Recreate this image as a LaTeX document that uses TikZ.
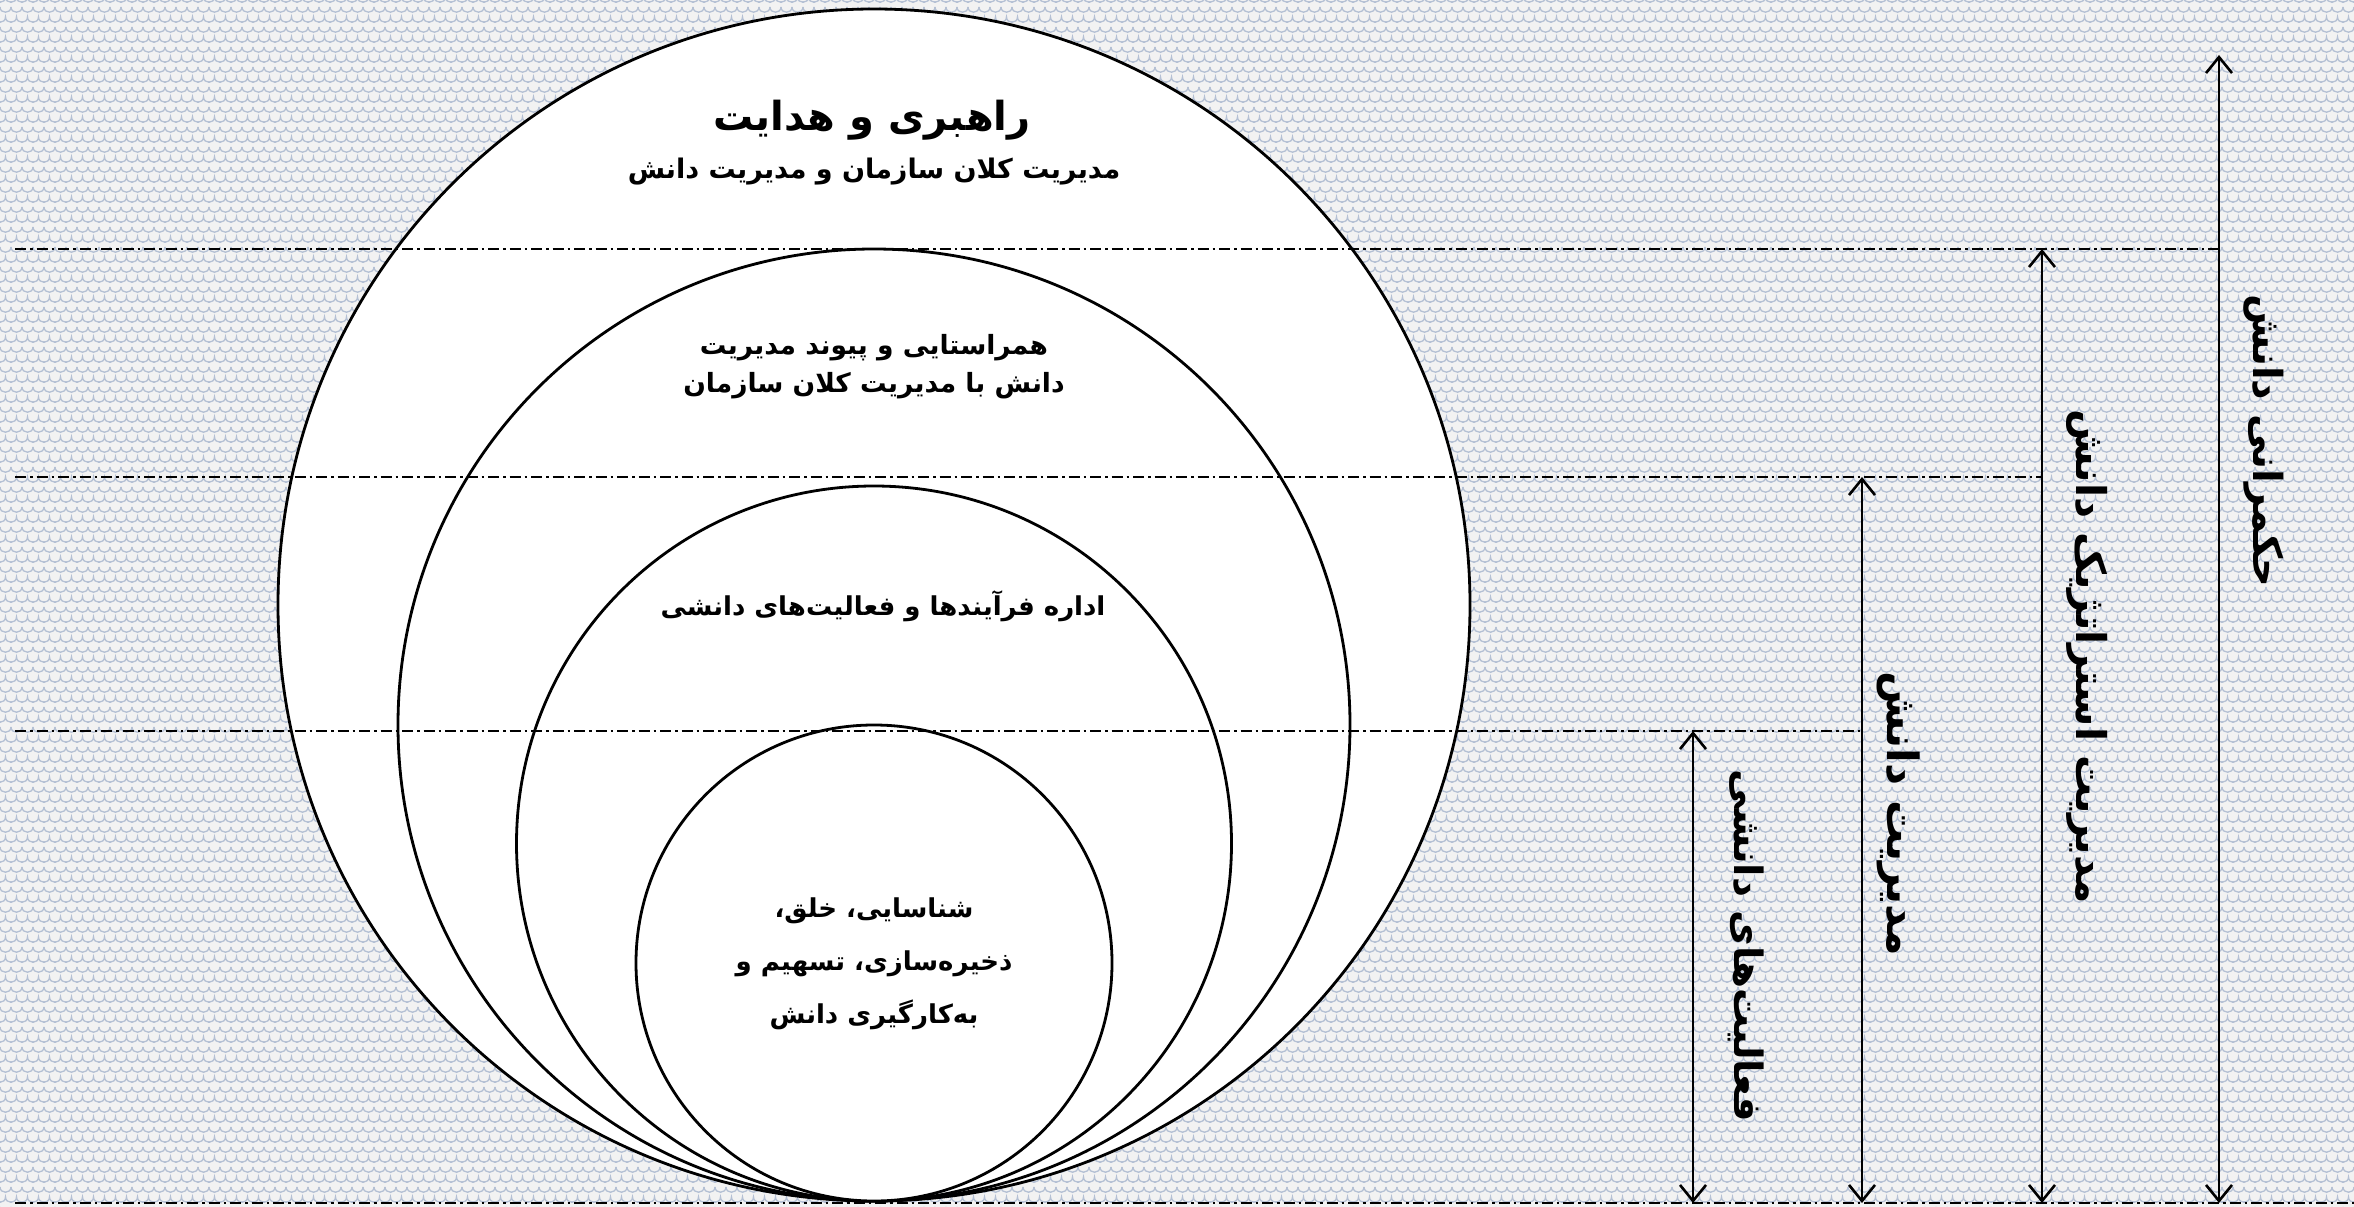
\documentclass[tikz,border=0pt]{standalone}
\usepackage{fontspec}
\newfontfamily\arabicfont[Script=Arabic]{DejaVu Sans}
\TeXXeTstate=1
\usetikzlibrary{arrows.meta,patterns}
\definecolor{bgc}{HTML}{F2F2F2}
\definecolor{patc}{HTML}{B4C0D4}
\pgfdeclarepatternformonly{scales}{\pgfqpoint{-1pt}{-1pt}}{\pgfqpoint{12pt}{21pt}}{\pgfqpoint{11pt}{20pt}}{
  \pgfsetlinewidth{1.3pt}
  \pgfpathmoveto{\pgfqpoint{0pt}{20pt}}
  \pgfpathcurveto{\pgfqpoint{0pt}{13pt}}{\pgfqpoint{11pt}{13pt}}{\pgfqpoint{11pt}{20pt}}
  \pgfpathmoveto{\pgfqpoint{-5.5pt}{10pt}}
  \pgfpathcurveto{\pgfqpoint{-5.5pt}{3pt}}{\pgfqpoint{5.5pt}{3pt}}{\pgfqpoint{5.5pt}{10pt}}
  \pgfpathcurveto{\pgfqpoint{5.5pt}{3pt}}{\pgfqpoint{16.5pt}{3pt}}{\pgfqpoint{16.5pt}{10pt}}
  \pgfusepath{stroke}
}
\tikzset{
  ring/.style={circle, draw=black, fill=white, line width=2.8pt, inner sep=0pt},
  dashdot/.style={line width=2.6pt, dash pattern=on 11pt off 4pt on 2.5pt off 4pt},
  span/.style={line width=2.6pt, {Straight Barb[length=16pt,width=26pt]}-{Straight Barb[length=16pt,width=26pt]}},
  txt/.style={align=center, inner sep=0pt},
  vtxt/.style={rotate=-90, inner sep=0pt},
}
\newcommand{\arb}[1]{\arabicfont\bfseries\fontsize{#1}{1.2\dimexpr #1pt\relax}\selectfont}
\begin{document}
\begin{tikzpicture}[x=1pt, y=-1pt]
\useasboundingbox (0,0) rectangle (2354,1207);
\fill[bgc] (0,0) rectangle (2354,1207);
\fill[pattern=scales, pattern color=patc] (0,0) rectangle (2354,1207);
% circles
\node[ring, minimum size=1192pt] (c1) at (874,605) {};
\node[ring, minimum size=952pt] (c2) at (874,725) {};
\node[ring, minimum size=715pt] (c3) at (874,843.5) {};
\node[ring, minimum size=476pt] (c4) at (874,963) {};
% coordinates for lines and spans
\coordinate (l1a) at (15,249);
\coordinate (l1b) at (2219,249);
\coordinate (l2a) at (15,477);
\coordinate (l2b) at (2042,477);
\coordinate (l3a) at (15,731);
\coordinate (l3b) at (1862,731);
\coordinate (l4a) at (15,1203);
\coordinate (l4b) at (2354,1203);
\coordinate (t1) at (2219,55);
\coordinate (t2) at (2042,249);
\coordinate (t3) at (1862,477);
\coordinate (t4) at (1693,731);
\coordinate (b1) at (2219,1203);
\coordinate (b2) at (2042,1203);
\coordinate (b3) at (1862,1203);
\coordinate (b4) at (1693,1203);
% dash-dot levels
\draw[dashdot] (l1a) -- (l1b);
\draw[dashdot] (l2a) -- (l2b);
\draw[dashdot] (l3a) -- (l3b);
\draw[dashdot] (l4a) -- (l4b);
% spans
\draw[span] (t1) -- (b1);
\draw[span] (t2) -- (b2);
\draw[span] (t3) -- (b3);
\draw[span] (t4) -- (b4);
% circle texts
\node[txt, font={\arb{40}}] (h1) at (872,120) {\beginR راهبری و هدایت\endR};
\node[txt, font={\arb{27}}] (h2) at (874,172) {\beginR مدیریت کلان سازمان و مدیریت دانش\endR};
\node[txt, font={\arabicfont\bfseries\fontsize{26.5}{38}\selectfont}] (a1) at (874,367) {\beginR همراستایی و پیوند مدیریت\endR\\\beginR دانش با مدیریت کلان سازمان\endR};
\node[txt, font={\arb{26}}] (p1) at (883,606) {\beginR اداره فرآیندها و فعالیت‌های دانشی\endR};
\node[txt, font={\arabicfont\bfseries\fontsize{26}{53}\selectfont}] (k1) at (874,964) {\beginR شناسایی، خلق،\endR\\\beginR ذخیره‌سازی، تسهیم و\endR\\\beginR به‌کارگیری دانش\endR};
% side labels
\node[vtxt, font={\arb{40}}] (s1) at (2264,441) {\beginR حکمرانی دانش\endR};
\node[vtxt, font={\arb{41}}] (s2) at (2087,657) {\beginR مدیریت استراتژیک دانش\endR};
\node[vtxt, font={\arb{43}}] (s3) at (1899,814) {\beginR مدیریت دانش\endR};
\node[vtxt, font={\arb{39}}] (s4) at (1746,946) {\beginR فعالیت‌های دانشی\endR};
\end{tikzpicture}
\end{document}
